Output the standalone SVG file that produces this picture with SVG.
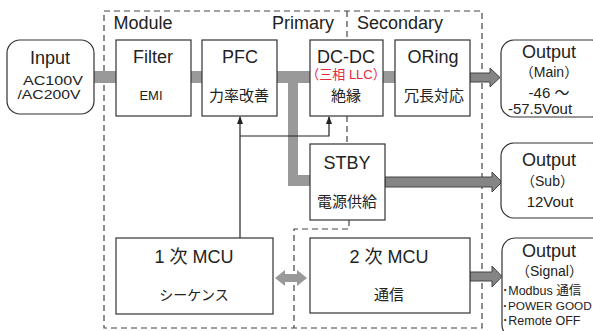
<svg xmlns="http://www.w3.org/2000/svg" width="593" height="331" viewBox="0 0 593 331">
<style>
.box{fill:#fff;stroke:#333;stroke-width:1.2}
.rbox{fill:#fff;stroke:#333;stroke-width:1.2}
.dash{fill:none;stroke:#444;stroke-width:1.2;stroke-dasharray:6 4}
.band{fill:#999}
.arr{fill:#858585;stroke:#444;stroke-width:1}
.t{font-family:"Liberation Sans","Noto Sans CJK JP",sans-serif;fill:#222;text-anchor:middle}
.l{font-size:18px}
.s{font-size:14px}
.m{font-size:15px}
.j{font-size:15px}
.p{font-size:14px}
.sig{font-size:12.5px;text-anchor:start}
.red{fill:#e8283c}
.line{stroke:#222;stroke-width:1.2;fill:none}
</style>
<defs>
<marker id="ah" markerWidth="8" markerHeight="8" refX="7" refY="4" orient="auto" markerUnits="userSpaceOnUse" viewBox="0 0 8 8">
<path d="M0,1 L8,4 L0,7 Z" fill="#222"/>
</marker>
</defs>

<g id="frames">
<rect class="dash" x="104" y="11" width="378" height="317"/>
<path class="dash" d="M347,11 V40 M347,116 V144 M349,220 V229 H294 V328"/>
<text class="t l" x="143" y="29">Module</text>
<text class="t l" x="334" y="29" style="text-anchor:end">Primary</text>
<text class="t l" x="357" y="29" style="text-anchor:start">Secondary</text>
</g>

<g id="connectors">
<rect class="band" x="94" y="71" width="23" height="12"/>
<rect class="band" x="190" y="71" width="13" height="12"/>
<rect class="band" x="276" y="71" width="35" height="12"/>
<path class="band" d="M288,83 H298 V175 H311 V186 H288 Z"/>
<rect class="band" x="382" y="71" width="14" height="12"/>
<polygon class="arr" points="470,73 490,73 490,68 500,77.5 490,87 490,82 470,82"/>
<polygon class="arr" points="385,177 492,177 492,172 502,182 492,192 492,187 385,187"/>
<polygon class="arr" points="470,272 492,272 492,266 502,276.5 492,287 492,281 470,281"/>
<polygon fill="#999" points="275,278 285,270 285,274 297,274 297,270 307,278 297,286 297,282 285,282 285,286"/>
<path class="line" d="M240,238 V117" marker-end="url(#ah)"/>
<path class="line" d="M240,136 H329 V117" marker-end="url(#ah)"/>
</g>

<g id="input">
<rect class="rbox" x="7" y="40" width="87" height="74" rx="13"/>
<text class="t l" x="50" y="64">Input</text>
<text class="t" x="53" y="85" style="font-size:13.5px" textLength="60" lengthAdjust="spacingAndGlyphs">AC100V</text>
<text class="t" x="49" y="99" style="font-size:13.5px" textLength="63" lengthAdjust="spacingAndGlyphs">/AC200V</text>
</g>

<g id="filter">
<rect class="box" x="116" y="40" width="75" height="76"/>
<text class="t l" x="153" y="63">Filter</text>
<text class="t" x="151" y="100" style="font-size:13px">EMI</text>
</g>

<g id="pfc">
<rect class="box" x="202" y="40" width="75" height="76"/>
<text class="t l" x="240" y="63">PFC</text>
<text class="t j" x="239" y="101">力率改善</text>
</g>

<g id="dcdc">
<rect class="box" x="310" y="40" width="73" height="76"/>
<text class="t l" x="346" y="63">DC-DC</text>
<text class="t red" x="346" y="79" style="font-size:13px">（三相 LLC）</text>
<text class="t j" x="346" y="101">絶縁</text>
</g>

<g id="oring">
<rect class="box" x="395" y="40" width="75" height="76"/>
<text class="t l" x="433" y="63">ORing</text>
<text class="t j" x="434" y="101">冗長対応</text>
</g>

<g id="stby">
<rect class="box" x="310" y="144" width="75" height="76"/>
<text class="t l" x="347" y="169">STBY</text>
<text class="t j" x="347" y="207">電源供給</text>
</g>

<g id="mcu1">
<rect class="box" x="116" y="238" width="157" height="76"/>
<text class="t l" x="194" y="263">1 次 MCU</text>
<text class="t s" x="194" y="300">シーケンス</text>
</g>

<g id="mcu2">
<rect class="box" x="310" y="238" width="160" height="75"/>
<text class="t l" x="389" y="263">2 次 MCU</text>
<text class="t j" x="389" y="300">通信</text>
</g>

<g id="out-main">
<rect class="rbox" x="501" y="40" width="104" height="77" rx="13"/>
<text class="t l" x="549" y="58">Output</text>
<text class="t p" x="549" y="77">（Main）</text>
<text class="t m" x="549" y="98">-46 ～</text>
<text class="t m" x="540" y="114">-57.5Vout</text>
</g>

<g id="out-sub">
<rect class="rbox" x="501" y="143" width="104" height="75" rx="13"/>
<text class="t l" x="549" y="166">Output</text>
<text class="t p" x="547.5" y="186">（Sub）</text>
<text class="t m" x="550" y="207">12Vout</text>
</g>

<g id="out-signal">
<rect class="rbox" x="502" y="238" width="104" height="100" rx="13"/>
<text class="t l" x="549" y="257">Output</text>
<text class="t p" x="549.5" y="276">（Signal）</text>
<text class="t sig" x="502" y="295">･Modbus 通信</text>
<text class="t sig" x="502" y="310" style="font-size:11.8px">･POWER GOOD</text>
<text class="t sig" x="502" y="325">･Remote OFF</text>
</g>
</svg>
